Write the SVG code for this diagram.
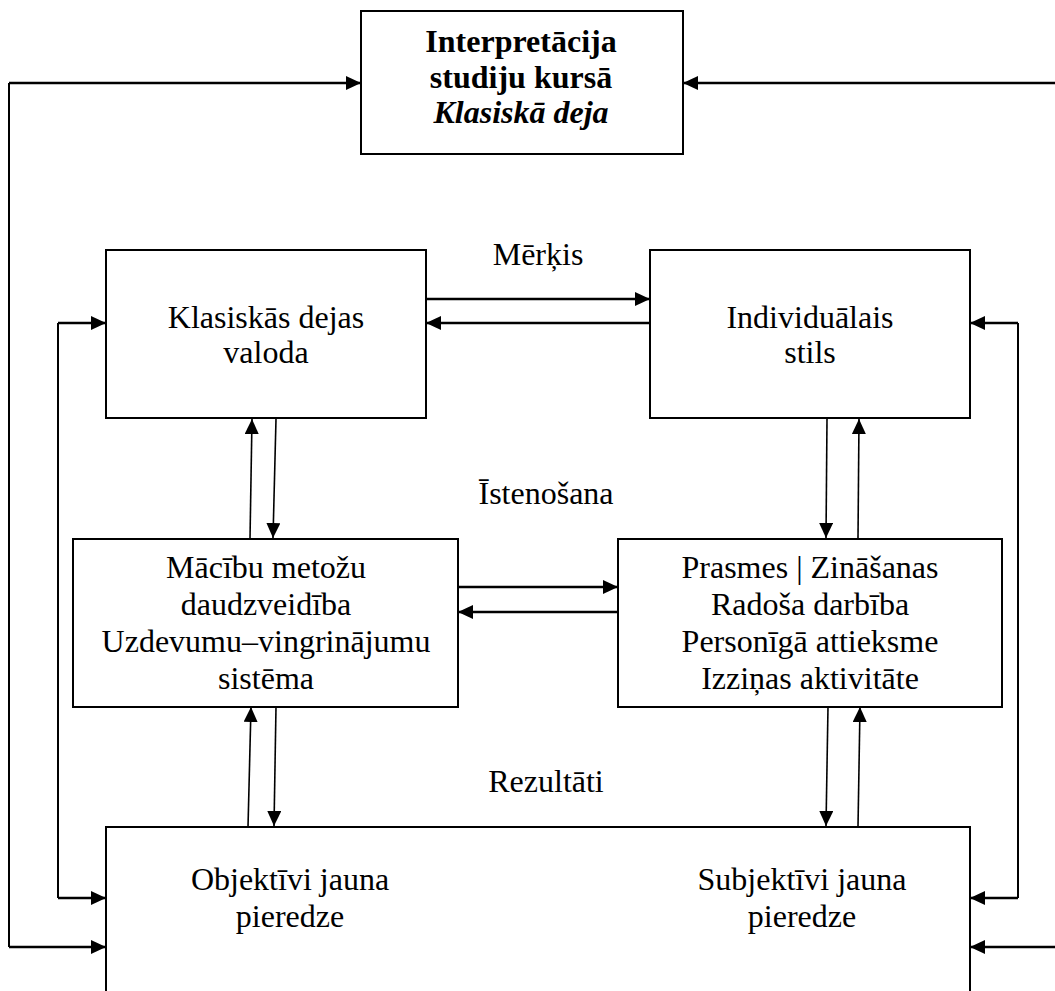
<svg xmlns="http://www.w3.org/2000/svg" width="1055" height="991" viewBox="0 0 1055 991">
  <style>
    .box { fill: #fff; stroke: #000; stroke-width: 2; }
    .t { font-family: "Liberation Serif", "Times New Roman", serif; font-size: 32px; fill: #000; text-anchor: middle; }
    .b { font-weight: bold; }
    .bi { font-weight: bold; font-style: italic; }
    .h { fill: none; stroke: #000; stroke-width: 2.5; marker-end: url(#arr); }
    .v { fill: none; stroke: #000; stroke-width: 1.6; marker-end: url(#arr); }
    .loop { fill: none; stroke: #000; stroke-width: 2; }
  </style>
  <defs>
    <marker id="arr" markerUnits="userSpaceOnUse" markerWidth="15" markerHeight="14" refX="15" refY="7" orient="auto">
      <path d="M0,0 L15,7 L0,14 z" fill="#000"/>
    </marker>
  </defs>

  <rect width="1055" height="991" fill="#fff"/>

  <!-- connectors -->
  <g id="connectors">
    <!-- outer feedback loops -->
    <path class="loop" d="M9,83 V947"/>
    <path class="h" d="M9,83 H361"/>
    <path class="h" d="M9,947 H106"/>
    <path class="h" d="M1062,83 H683"/>
    <path class="h" d="M1062,947 H970"/>

    <!-- inner feedback loops -->
    <path class="loop" d="M58,323 V898"/>
    <path class="h" d="M58,323 H106"/>
    <path class="h" d="M58,898 H106"/>
    <path class="loop" d="M1018,323 V898"/>
    <path class="h" d="M1018,323 H970"/>
    <path class="h" d="M1018,898 H970"/>

    <!-- Mērķis level -->
    <path class="h" d="M426,299 H650"/>
    <path class="h" d="M650,323 H426"/>

    <!-- Īstenošana level -->
    <path class="h" d="M458,587 H618"/>
    <path class="h" d="M618,612 H458"/>

    <!-- vertical links, upper -->
    <path class="v" d="M250,539 L252,419"/>
    <path class="v" d="M276,419 L273,538"/>
    <path class="v" d="M827,419 L826,538"/>
    <path class="v" d="M858,539 L859,419"/>

    <!-- vertical links, lower -->
    <path class="v" d="M248,827 L251,707"/>
    <path class="v" d="M276,707 L274,826"/>
    <path class="v" d="M828,707 L826,826"/>
    <path class="v" d="M858,827 L860,707"/>

    <!-- inside results box -->
    <path class="h" d="M425,875 H649"/>
    <path class="h" d="M651,923 H427"/>
  </g>

  <!-- nodes -->
  <g id="interpretacija">
    <rect class="box" x="361" y="11" width="322" height="143"/>
    <text class="t b" x="521" y="52">Interpretācija</text>
    <text class="t b" x="521" y="88">studiju kursā</text>
    <text class="t bi" x="521" y="123">Klasiskā deja</text>
  </g>

  <g id="valoda">
    <rect class="box" x="106" y="250" width="320" height="168"/>
    <text class="t" x="266" y="328">Klasiskās dejas</text>
    <text class="t" x="266" y="363">valoda</text>
  </g>

  <g id="stils">
    <rect class="box" x="650" y="250" width="320" height="168"/>
    <text class="t" x="810" y="328">Individuālais</text>
    <text class="t" x="810" y="363">stils</text>
  </g>

  <g id="metodes">
    <rect class="box" x="73" y="539" width="385" height="168"/>
    <text class="t" x="266" y="578">Mācību metožu</text>
    <text class="t" x="266" y="615">daudzveidība</text>
    <text class="t" x="266" y="652">Uzdevumu–vingrinājumu</text>
    <text class="t" x="266" y="689">sistēma</text>
  </g>

  <g id="prasmes">
    <rect class="box" x="618" y="539" width="384" height="168"/>
    <text class="t" x="810" y="578">Prasmes | Zināšanas</text>
    <text class="t" x="810" y="615">Radoša darbība</text>
    <text class="t" x="810" y="652">Personīgā attieksme</text>
    <text class="t" x="810" y="689">Izziņas aktivitāte</text>
  </g>

  <g id="pieredze">
    <rect class="box" x="106" y="827" width="864" height="190"/>
    <text class="t" x="290" y="890">Objektīvi jauna</text>
    <text class="t" x="290" y="927">pieredze</text>
    <text class="t" x="802" y="890">Subjektīvi jauna</text>
    <text class="t" x="802" y="927">pieredze</text>
  </g>

  <!-- level labels -->
  <g id="labels">
    <text class="t" x="538" y="265">Mērķis</text>
    <text class="t" x="546" y="504">Īstenošana</text>
    <text class="t" x="546" y="792">Rezultāti</text>
  </g>
</svg>
